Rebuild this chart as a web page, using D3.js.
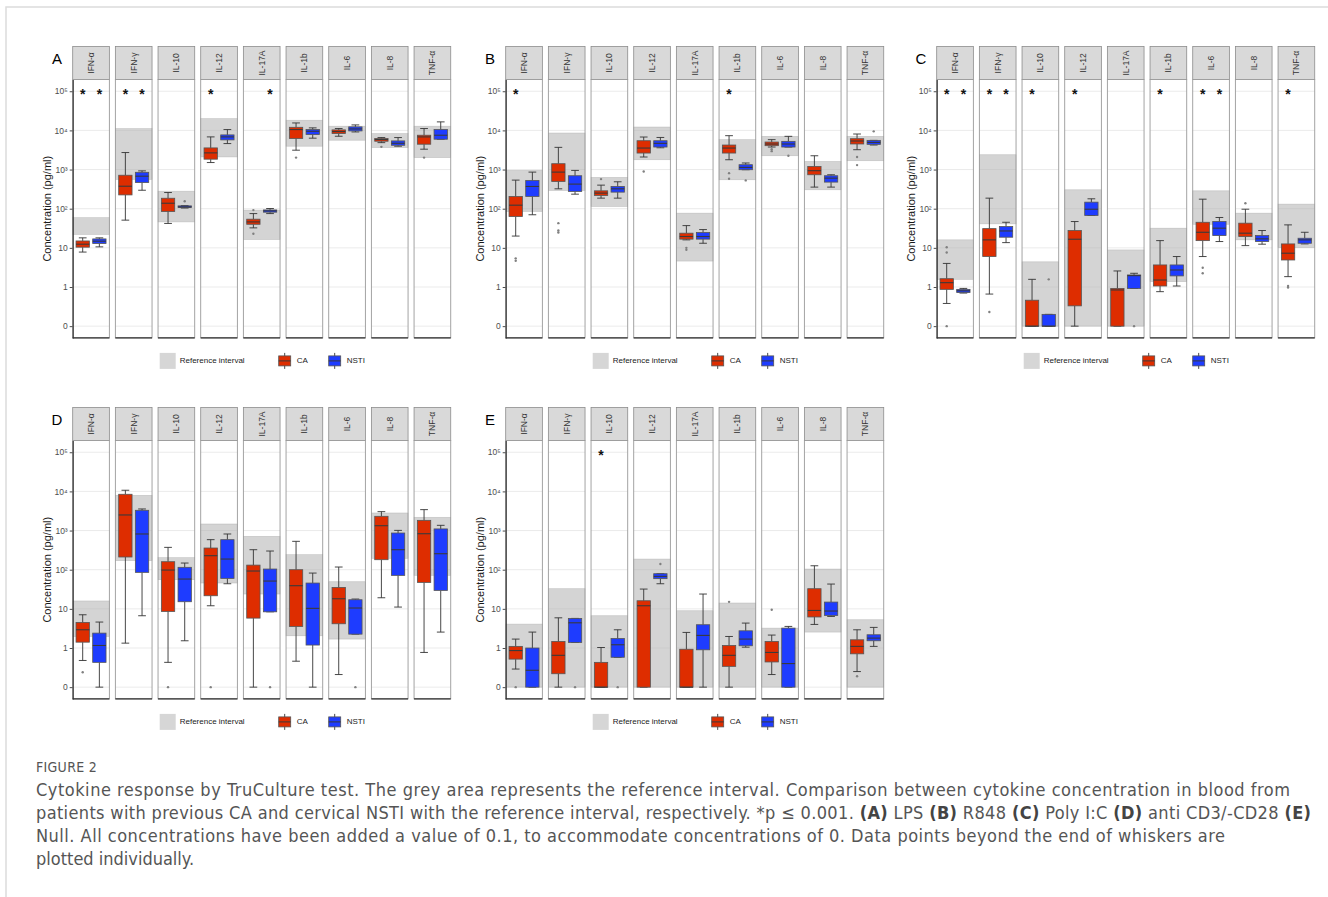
<!DOCTYPE html>
<html>
<head>
<meta charset="utf-8">
<script src="https://cdn.jsdelivr.net/npm/d3@7"></script>
<style>
body { margin: 0; background: #fff; }
text { font-family: "Liberation Sans", Arial, sans-serif; }
</style>
</head>
<body>
<script>

// categories and tick labels
var cytokines = ["IFN-α", "IFN-γ", "IL-10", "IL-12", "IL-17A", "IL-1b", "IL-6", "IL-8", "TNF-α"];
var groups = ["CA", "NSTI"];
var yTicks = [0.1, 1, 10, 100, 1000, 10000, 100000];
var yTickLabels = ["0", "1", "10", "10²", "10³", "10⁴", "10⁵"];

// boxes: [lower whisker, q1, median, q3, upper whisker]  (concentration + 0.1)
// reference interval: [low, high]

// A - LPS
var refA = [[22, 59], [560, 11150], [46, 280], [2100, 20000], [16.3, 92], [3950, 18200], [5610, 12800], [3630, 8310], [2020, 12800]];
var caA = [[7.8, 10.4, 12.4, 15, 18], [51, 225, 375, 716, 2720], [42, 85, 138, 185, 259], [1510, 1840, 2665, 3570, 6820], [32.4, 40, 46, 54, 75],
    [3120, 6200, 10500, 12000, 15500], [7090, 8310, 9350, 10300, 11150], [4870, 5290, 5830, 6200, 6560], [3310, 4440, 6820, 7530, 11150]];
var caAout = [[], [], [], [], [92, 23], [2020], [], [3800], [2020]];
var nstiA = [[10.6, 12.9, 14.8, 16.9, 18], [296, 466, 676, 850, 925], [104, 108, 111, 118, 120], [4610, 5720, 6820, 7670, 10500], [75, 81.5, 88, 93, 101],
    [6330, 7830, 9500, 10500, 11600], [9130, 9700, 10900, 12300, 13800], [3950, 4170, 4690, 5390, 6560], [5950, 5950, 7530, 10500, 16500]];
var nstiAout = [[], [], [155], [], [], [], [], [], []];
var starsCaA = [1, 1, 0, 1, 0, 0, 0, 0, 0];
var starsNstiA = [1, 1, 0, 0, 1, 0, 0, 0, 0];

// B - R848
var refB = [[85, 950], [292, 8570], [114, 630], [1780, 12200], [4.6, 77], [548, 5800], [2250, 7050], [304, 1610], [1680, 7050]];
var caB = [[20, 63, 123, 205, 537], [322, 497, 860, 1410, 3690], [186, 218, 250, 286, 400], [2090, 2640, 3540, 5450, 6770], [16, 16.7, 19.5, 23.7, 37],
    [1780, 2640, 3540, 4230, 7330], [3760, 4070, 4490, 5050, 5800], [356, 736, 935, 1200, 2250], [3210, 4500, 5360, 6140, 8090]];
var caBout = [[5.4, 4.7], [42.7, 27.7, 24.6], [570], [895], [10, 8.9], [810, 582], [3300, 2950], [], [2090, 1300]];
var nstiB = [[70, 205, 370, 525, 860], [235, 276, 425, 695, 950], [186, 265, 322, 370, 487], [3600, 3760, 4670, 5450, 6600], [13.1, 16.7, 19.5, 24.6, 29.3],
    [990, 990, 1135, 1330, 1470], [3760, 3760, 4490, 5250, 7050], [356, 478, 603, 695, 736], [4230, 4400, 4940, 5560, 5560]];
var nstiBout = [[], [], [], [], [], [528], [2250], [], [9460]];
var starsCaB = [1, 0, 0, 0, 0, 1, 0, 0, 0];
var starsNstiB = [0, 0, 0, 0, 0, 0, 0, 0, 0];

// C - Poly I:C
var refC = [[1.57, 16], [41, 2390], [0.1, 4.4], [0.1, 304], [0.1, 8.85], [1.37, 31.8], [40, 286], [16, 77], [10.2, 131]];
var caC = [[0.38, 0.87, 1.29, 1.63, 4.0], [0.66, 6.0, 16, 31, 186], [0.1, 0.1, 0.1, 0.46, 1.57], [0.1, 0.33, 16.6, 27.7, 47], [0.1, 0.1, 0.84, 0.92, 2.57],
    [0.76, 1.06, 1.51, 3.66, 15.3], [6.0, 15.3, 25, 45, 175], [11.4, 19.4, 23.7, 42.7, 97], [1.84, 4.9, 7.3, 12.6, 38.6]];
var caCout = [[10.4, 7.6, 0.1], [0.23], [], [], [], [], [3.1, 2.24], [138], [1.06, 0.97]];
var nstiC = [[0.70, 0.72, 0.80, 0.87, 0.92], [13.6, 18.7, 27, 35, 45], [0.1, 0.1, 0.1, 0.2, 0.2], [67, 67, 97, 147, 179], [0.92, 0.92, 1.95, 2.03, 2.24],
    [1.06, 1.92, 2.72, 3.66, 6.0], [14.5, 20.6, 31.8, 47, 59.6], [12.4, 14.5, 17, 20.6, 27.7], [12.6, 13.1, 16, 17.6, 25]];
var nstiCout = [[], [], [1.57], [], [0.1], [], [], [], []];
var starsCaC = [1, 1, 1, 1, 0, 1, 1, 0, 1];
var starsNstiC = [1, 1, 0, 0, 0, 0, 1, 0, 0];

// D - anti CD3/-CD28
var refD = [[1.97, 15.9], [170, 7940], [55.5, 203], [45.7, 1470], [23.9, 711], [2.05, 242], [1.69, 49.3], [195, 2810], [71.6, 2180]];
var caD = [[0.48, 1.41, 2.92, 4.5, 7.06], [1.33, 211, 2500, 8440, 10700], [0.43, 8.6, 98, 160, 372], [12, 21.6, 228, 358, 585], [0.1, 5.8, 92.5, 131, 324],
    [0.46, 3.56, 39, 100, 530], [0.21, 4.16, 18.1, 35.3, 117], [19.2, 180, 1330, 2310, 3040], [0.77, 47.4, 830, 1820, 3420]];
var caDout = [[0.24], [], [0.1], [0.1], [], [], [], [], []];
var nstiD = [[0.1, 0.43, 1.16, 2.4, 4.6], [6.67, 85.5, 817, 3290, 3560], [1.53, 15.2, 57.7, 115, 148], [43.8, 60, 187, 585, 817], [8.4, 8.4, 51.3, 104, 300],
    [0.1, 1.19, 10.3, 45.6, 82], [2.26, 2.26, 10.5, 17.1, 17.8], [11.1, 71.6, 324, 865, 1010], [2.55, 29.6, 256, 1100, 1360]];
var nstiDout = [[], [], [], [], [0.1], [], [0.1], [], []];
var starsCaD = [0, 0, 0, 0, 0, 0, 0, 0, 0];
var starsNstiD = [0, 0, 0, 0, 0, 0, 0, 0, 0];

// E - Null
var refE = [[0.1, 4.08], [0.1, 32.7], [0.1, 6.67], [0.1, 187], [0.1, 8.95], [0.1, 14.1], [0.1, 3.22], [2.55, 104], [0.1, 5.27]];
var caE = [[0.29, 0.52, 0.86, 1.1, 1.69], [0.1, 0.22, 0.65, 1.47, 5.9], [0.1, 0.1, 0.1, 0.43, 1.03], [0.1, 0.1, 12, 16.1, 32], [0.1, 0.1, 0.1, 0.93, 2.5],
    [0.1, 0.34, 0.65, 1.16, 1.97], [0.21, 0.44, 0.77, 1.47, 2.14], [4.0, 6.2, 9.1, 32.7, 126], [0.25, 0.71, 1.1, 1.62, 2.92]];
var caEout = [[0.1], [], [], [], [], [15.1], [9.5], [], [0.19]];
var nstiE = [[0.1, 0.1, 0.27, 1.0, 2.55], [1.39, 1.39, 4.4, 5.7, 5.7], [0.58, 0.58, 1.21, 1.75, 2.92], [43.8, 59, 67.6, 79, 79], [0.1, 0.9, 2.1, 3.93, 23.9],
    [1.05, 1.14, 1.69, 2.75, 4.33], [0.1, 0.1, 0.4, 3.22, 3.56], [6.4, 6.8, 8.8, 14.9, 43], [1.1, 1.53, 1.79, 2.18, 3.36]];
var nstiEout = [[], [0.1], [0.1], [140], [], [], [], [], []];
var starsCaE = [0, 0, 1, 0, 0, 0, 0, 0, 0];
var starsNstiE = [0, 0, 0, 0, 0, 0, 0, 0, 0];

var width = 1328;
var height = 897;
var colors = {CA: "#de2d00", NSTI: "#1e3cff"};

var facetStep = 42.67;
var facetGap = 6;
var stripH = 33;
var plotH = 258.4;

var panels = [
    {label: "A", x0: 72.7, top: 46.5, ref: refA, ca: caA, caOut: caAout, nsti: nstiA, nstiOut: nstiAout, starsCa: starsCaA, starsNsti: starsNstiA},
    {label: "B", x0: 505.7, top: 46.5, ref: refB, ca: caB, caOut: caBout, nsti: nstiB, nstiOut: nstiBout, starsCa: starsCaB, starsNsti: starsNstiB},
    {label: "C", x0: 936.7, top: 46.5, ref: refC, ca: caC, caOut: caCout, nsti: nstiC, nstiOut: nstiCout, starsCa: starsCaC, starsNsti: starsNstiC},
    {label: "D", x0: 72.7, top: 407.5, ref: refD, ca: caD, caOut: caDout, nsti: nstiD, nstiOut: nstiDout, starsCa: starsCaD, starsNsti: starsNstiD},
    {label: "E", x0: 505.7, top: 407.5, ref: refE, ca: caE, caOut: caEout, nsti: nstiE, nstiOut: nstiEout, starsCa: starsCaE, starsNsti: starsNstiE}
];

var svg = d3.select("body").append("svg")
    .attr("width", width)
    .attr("height", height);

// page frame
svg.append("path")
    .attr("d", "M6," + height + "V7H" + width)
    .attr("fill", "none")
    .attr("stroke", "#dcdcdc")
    .attr("stroke-width", 1.5);

panels.forEach(drawPanel);

function drawPanel(p) {
    var g = svg.append("g");
    var plotTop = p.top + stripH;
    var plotBottom = plotTop + plotH;

    var x = d3.scaleBand()
        .domain(cytokines)
        .range([p.x0, p.x0 + facetStep * (cytokines.length - facetGap / facetStep)])
        .paddingInner(facetGap / facetStep)
        .paddingOuter(0);
    var bw = x.bandwidth();

    var xi = d3.scaleBand()
        .domain(groups)
        .range([0, bw])
        .paddingInner(0.2)
        .paddingOuter(0.2);

    var y = d3.scaleLog()
        .domain([Math.pow(10, -1.3), Math.pow(10, 5.3)])
        .range([plotBottom, plotTop]);

    cytokines.forEach(function(c, i) {
        var f = g.append("g").attr("transform", "translate(" + x(c) + ",0)");

        // strip
        f.append("rect")
            .attr("x", 0).attr("y", p.top)
            .attr("width", bw).attr("height", stripH)
            .attr("fill", "#d9d9d9")
            .attr("stroke", "#8c8c8c")
            .attr("stroke-width", 0.8);
        f.append("text")
            .attr("transform", "translate(" + (bw / 2) + "," + (p.top + stripH / 2) + ") rotate(-90)")
            .attr("text-anchor", "middle")
            .attr("dominant-baseline", "central")
            .style("font-size", "8.5px")
            .style("fill", "#333")
            .text(c);

        // panel background
        f.append("rect")
            .attr("x", 0).attr("y", plotTop)
            .attr("width", bw).attr("height", plotH)
            .attr("fill", "#fff");

        // grid
        f.selectAll(".grid")
            .data(yTicks)
            .enter()
            .append("line")
            .attr("x1", 0).attr("x2", bw)
            .attr("y1", function(d) { return y(d); })
            .attr("y2", function(d) { return y(d); })
            .attr("stroke", "#ebebeb")
            .attr("stroke-width", 1);

        // reference interval
        var r = p.ref[i];
        f.append("rect")
            .attr("x", 0).attr("y", y(r[1]))
            .attr("width", bw).attr("height", y(r[0]) - y(r[1]))
            .attr("fill", "#b0b0b0")
            .attr("fill-opacity", 0.55)
            .attr("stroke", "#a8a8a8")
            .attr("stroke-opacity", 0.6)
            .attr("stroke-width", 0.6);

        // boxes
        groups.forEach(function(grp) {
            var s = grp == "CA" ? p.ca[i] : p.nsti[i];
            var outs = grp == "CA" ? p.caOut[i] : p.nstiOut[i];
            var star = grp == "CA" ? p.starsCa[i] : p.starsNsti[i];
            var bx = xi(grp);
            var bwi = xi.bandwidth();
            var cx = bx + bwi / 2;
            var capW = bwi * 0.29;

            f.append("line")
                .attr("x1", cx).attr("x2", cx)
                .attr("y1", y(s[0])).attr("y2", y(s[1]))
                .attr("stroke", "#333").attr("stroke-width", 0.9);
            f.append("line")
                .attr("x1", cx).attr("x2", cx)
                .attr("y1", y(s[3])).attr("y2", y(s[4]))
                .attr("stroke", "#333").attr("stroke-width", 0.9);
            [s[0], s[4]].forEach(function(v) {
                f.append("line")
                    .attr("x1", cx - capW).attr("x2", cx + capW)
                    .attr("y1", y(v)).attr("y2", y(v))
                    .attr("stroke", "#333").attr("stroke-width", 0.9);
            });

            f.append("rect")
                .attr("x", bx).attr("y", y(s[3]))
                .attr("width", bwi).attr("height", Math.max(0.5, y(s[1]) - y(s[3])))
                .attr("fill", colors[grp])
                .attr("stroke", "#555")
                .attr("stroke-width", 0.8);
            f.append("line")
                .attr("x1", bx).attr("x2", bx + bwi)
                .attr("y1", y(s[2])).attr("y2", y(s[2]))
                .attr("stroke", "#3a3a3a").attr("stroke-width", 1.1);

            f.selectAll(null)
                .data(outs)
                .enter()
                .append("circle")
                .attr("cx", cx)
                .attr("cy", function(d) { return y(d); })
                .attr("r", 1.2)
                .attr("fill", "#808080");

            if (star) {
                f.append("text")
                    .attr("x", cx)
                    .attr("y", y(100000) + 7.5)
                    .attr("text-anchor", "middle")
                    .style("font-size", "14px")
                    .style("font-weight", "bold")
                    .style("fill", "#111")
                    .text("*");
            }
        });

        // panel border and x axis line
        f.append("rect")
            .attr("x", 0).attr("y", plotTop)
            .attr("width", bw).attr("height", plotH)
            .attr("fill", "none")
            .attr("stroke", "#999")
            .attr("stroke-width", 0.9);
        f.append("line")
            .attr("x1", 0).attr("x2", bw)
            .attr("y1", plotBottom).attr("y2", plotBottom)
            .attr("stroke", "#333").attr("stroke-width", 1.2);
    });

    // y axis
    var yAxis = g.append("g")
        .attr("transform", "translate(" + p.x0 + ",0)")
        .call(d3.axisLeft(y)
            .tickValues(yTicks)
            .tickFormat(function(d, i) { return yTickLabels[i]; })
            .tickSize(3)
            .tickSizeOuter(0)
            .tickPadding(2));
    yAxis.select(".domain").attr("stroke", "#333").attr("stroke-width", 1.2);
    yAxis.selectAll(".tick line").attr("stroke", "#4d4d4d");
    yAxis.selectAll(".tick text")
        .style("font-size", "8.5px")
        .style("fill", "#4d4d4d")
        .style("font-family", "'Liberation Sans', Arial, sans-serif");

    g.append("text")
        .attr("transform", "translate(" + (p.x0 - 25.7) + "," + ((plotTop + plotBottom) / 2) + ") rotate(-90)")
        .attr("text-anchor", "middle")
        .attr("dominant-baseline", "central")
        .style("font-size", "11px")
        .style("fill", "#1a1a1a")
        .text("Concentration (pg/ml)");

    // panel letter
    g.append("text")
        .attr("x", p.x0 - 15.7)
        .attr("y", p.top + 17.3)
        .attr("text-anchor", "middle")
        .style("font-size", "15px")
        .style("fill", "#000")
        .text(p.label);

    // legend
    var ly = plotBottom + 23;
    var lg = g.append("g").attr("transform", "translate(" + p.x0 + "," + ly + ")");
    lg.append("rect")
        .attr("x", 87).attr("y", -8)
        .attr("width", 16).attr("height", 16)
        .attr("fill", "#d6d6d6");
    lg.append("text")
        .attr("x", 107).attr("y", 0)
        .attr("dominant-baseline", "central")
        .style("font-size", "8px")
        .style("fill", "#1a1a1a")
        .text("Reference interval");

    var keys = [{grp: "CA", kx: 205, tx: 224}, {grp: "NSTI", kx: 255, tx: 274}];
    keys.forEach(function(k) {
        var kc = k.kx + 7;
        lg.append("line")
            .attr("x1", kc).attr("x2", kc)
            .attr("y1", -8).attr("y2", 8)
            .attr("stroke", "#333").attr("stroke-width", 0.9);
        lg.append("rect")
            .attr("x", k.kx + 1).attr("y", -5)
            .attr("width", 12).attr("height", 10)
            .attr("fill", colors[k.grp])
            .attr("stroke", "#555")
            .attr("stroke-width", 0.8);
        lg.append("line")
            .attr("x1", k.kx + 1).attr("x2", k.kx + 13)
            .attr("y1", 0).attr("y2", 0)
            .attr("stroke", "#3a3a3a").attr("stroke-width", 1);
        lg.append("text")
            .attr("x", k.tx).attr("y", 0)
            .attr("dominant-baseline", "central")
            .style("font-size", "8px")
            .style("fill", "#1a1a1a")
            .text(k.grp);
    });
}

// caption
var capFont = "'Liberation Sans Narrow', 'DejaVu Sans Condensed', 'Open Sans', sans-serif";
svg.append("text")
    .attr("x", 36).attr("y", 772)
    .style("font-family", capFont)
    .style("font-size", "14px")
    .style("fill", "#555")
    .style("letter-spacing", "0.3px")
    .text("FIGURE 2");

var captionLines = [
    [{t: "Cytokine response by TruCulture test. The grey area represents the reference interval. Comparison between cytokine concentration in blood from"}],
    [{t: "patients with previous CA and cervical NSTI with the reference interval, respectively. *p ≤ 0.001. "}, {t: "(A)", b: 1}, {t: " LPS "}, {t: "(B)", b: 1},
        {t: " R848 "}, {t: "(C)", b: 1}, {t: " Poly I:C "}, {t: "(D)", b: 1}, {t: " anti CD3/-CD28 "}, {t: "(E)", b: 1}],
    [{t: "Null. All concentrations have been added a value of 0.1, to accommodate concentrations of 0. Data points beyond the end of whiskers are"}],
    [{t: "plotted individually."}]
];
var captionEnds = [1290, 1311, 1225, 0];

captionLines.forEach(function(line, i) {
    var t = svg.append("text")
        .attr("x", 36)
        .attr("y", 796 + i * 23)
        .style("font-family", capFont)
        .style("font-size", "18px")
        .style("fill", "#555");
    if (captionEnds[i]) {
        t.attr("textLength", captionEnds[i] - 36).attr("lengthAdjust", "spacing");
    }
    line.forEach(function(part) {
        t.append("tspan")
            .style("font-weight", part.b ? "bold" : "normal")
            .style("fill", part.b ? "#444" : "#555")
            .text(part.t);
    });
});

</script>
</body>
</html>
